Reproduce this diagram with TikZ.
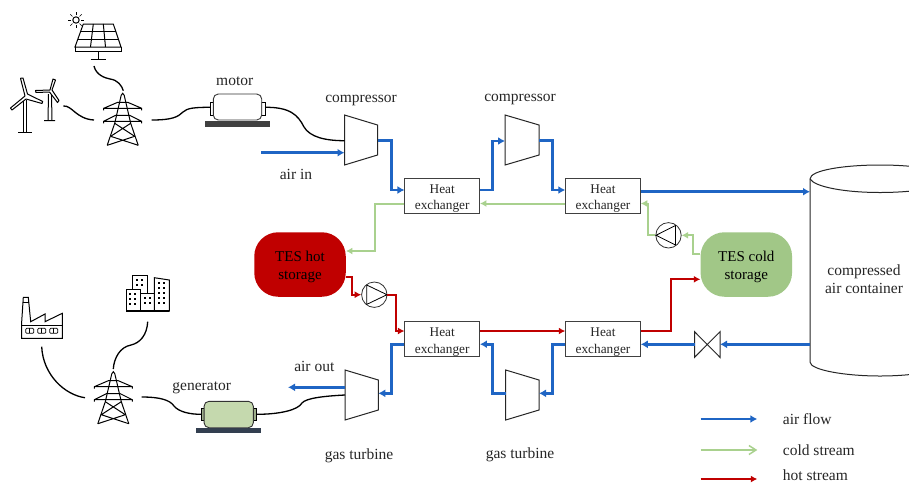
\documentclass[tikz,border=0pt]{standalone}
\usepackage{fontspec}
\setmainfont{Liberation Serif}
\usetikzlibrary{arrows.meta}
\definecolor{airblue}{HTML}{1F65C4}
\definecolor{coldgreen}{HTML}{A9D18E}
\definecolor{hotred}{HTML}{C00000}
\definecolor{genfill}{HTML}{C5D9AE}
\definecolor{genbase}{HTML}{333F50}
\newcommand{\hxtext}{\rule{0pt}{14pt}Heat\\exchanger}
\tikzset{
	lbl/.style={inner sep=0pt, font=\fontsize{15.5}{18}\selectfont, align=center, text=black!85},
	hx/.style={draw=black!75, line width=1pt, fill=white, minimum width=74.5pt, minimum height=35pt, inner sep=0pt, align=center, font=\fontsize{13.3}{16.7}\selectfont, text=black!85},
	tes/.style={minimum width=91.5pt, minimum height=64.5pt, inner sep=0pt, rounded corners=24pt, align=center, font=\fontsize{15}{18}\selectfont},
	pumpc/.style={circle, draw=black!80, line width=0.8pt, minimum size=25.4pt, inner sep=0pt},
	unit/.style={draw=black!85, line width=1pt, line join=miter},
	icon/.style={draw=black, line width=1pt},
	shaft/.style={draw=black, line width=1.3pt},
	air/.style={draw=airblue, line width=2.7pt, -{Latex[length=7pt,width=8pt]}},
	cold/.style={draw=coldgreen, line width=2pt, -{Latex[length=6.5pt,width=7pt]}},
	hot/.style={draw=hotred, line width=1.7pt, -{Latex[length=6.5pt,width=7pt]}},
	pylon/.pic={
		\draw[icon] (-1.5,2) -- (0,0) -- (1.5,2) (-1.5,2) -- (-8,30) -- (-15.5,52) (1.5,2) -- (8,30) -- (15.5,52);
		\draw[icon] (-19,17) -- (-19,15) -- (-5,9) -- (5,9) -- (19,15) -- (19,17) (-19,15) -- (19,15);
		\draw[icon] (-19,30) -- (-19,28) -- (-7,22) -- (7,22) -- (19,28) -- (19,30) (-19,28) -- (19,28);
		\draw[icon] (-8,30) -- (12,43) (8,30) -- (-12,43) (-12,43) -- (15.5,52) (12,43) -- (-15.5,52);
	},
	window/.pic={\fill (-0.8,-0.8) rectangle (0.8,0.8);},
	winshape/.pic={\draw[icon, line width=0.7pt, rounded corners=1pt] (0,0) rectangle (8,5); \draw[icon, line width=0.7pt] (4,0) -- (4,5);}
}
\begin{document}
\begin{tikzpicture}[x=1pt, y=-1pt]
	\clip (0,0) rectangle (909,483);
	\fill[white] (0,0) rectangle (909,483);

	% solar panel
	\draw[icon] (83.3,24) -- (113.3,24) -- (121,47) -- (75,47) -- cycle;
	\draw[icon] (75,47) -- (75,51) -- (121,51) -- (121,47);
	\draw[icon] (80.7,31.5) -- (115.8,31.5) (78,39.5) -- (118.2,39.5);
	\draw[icon] (93.3,24) -- (90.5,47) (103.3,24) -- (105.5,47);
	\draw[icon] (98.3,51) -- (98.3,59.3) (90.7,59.3) -- (105.7,59.3);
	\draw[icon] (76,20) circle (3.2);
	\foreach \a in {0,45,...,315} {
		\draw[icon, line width=0.6pt] (76,20) ++(\a:5) -- ++(\a:3);
	}
	\coordinate (panel) at (94,66);

	% wind turbines
	\draw[icon] (23.5,100) -- (23.5,132.3) (26.5,100) -- (26.5,132.3) (18,132.3) -- (32,132.3);
	\draw[icon, fill=white, line join=round] (25,96) -- (20.5,78.3) -- (23,78) -- (27.5,94) -- (42.7,101.5) -- (42,103.5) -- (26,99) -- (12,110) -- (10.5,108) -- cycle;
	\draw[icon] (48.5,94) -- (48,120.7) (51.5,94) -- (52,120.7) (44,120.7) -- (55,120.7);
	\draw[icon, fill=white, line join=round] (50,90) -- (53,79) -- (55.5,80) -- (52,90) -- (59,100.5) -- (57.5,102.5) -- (49.5,92) -- (36,92.5) -- (35.5,90.5) -- cycle;
	\coordinate (wind) at (63.3,106);

	% towers
	\pic at (122.7,93.3) {pylon};
	\pic at (113.3,371.7) {pylon};
	\coordinate (gridAtop) at (123.3,90.7);
	\coordinate (gridAleft) at (94,120);
	\coordinate (gridAright) at (151.7,120);
	\coordinate (gridBtop) at (113.3,369);
	\coordinate (gridBleft) at (85,397.7);
	\coordinate (gridBright) at (141.7,397);

	% factory
	\draw[icon] (21.7,338.3) -- (21.7,321.7) -- (23.3,297.3) -- (28.3,297.3) -- (30.7,321.7) -- (45,314) -- (45,321.7) -- (62.3,313.3) -- (62.3,338.3) -- cycle;
	\draw[icon] (21.7,325) -- (62.3,325) (23,302) -- (28.8,302);
	\foreach \x in {25.7,37.7,49.7} {
		\pic at (\x,328.3) {winshape};
	}
	\coordinate (factory) at (41.7,346.7);

	% buildings
	\draw[icon, fill=white] (132.7,290) -- (132.7,275) -- (147.3,275) -- (147.3,293);
	\draw[icon, fill=white] (126,311) -- (126,289.3) -- (140,289.3) -- (140,311) -- cycle;
	\draw[icon, fill=white] (140.7,311) -- (140.7,293.3) -- (154.3,293.3) -- (154.3,311) -- cycle;
	\draw[icon, fill=white] (154.3,311) -- (154.3,277.7) -- (169.3,280) -- (169.3,311) -- cycle;
	\draw[line width=1.4pt] (126,311) -- (169.3,311);
	\foreach \x/\y in {137/280,142/280,137/285,142/285,130/294,135/294,130/299,135/299,130/304,135/304,145/298,150/298,145/303,150/303,159/283,164/283,159/288,164/288,159/293,164/293,159/298,164/298,159/303,164/303} {
		\pic at (\x,\y) {window};
	}
	\coordinate (city) at (147.7,321.7);

	% motor
	\fill[black!75] (205,120.7) rectangle (270,126.7);
	\draw[icon, fill=white] (210,102) rectangle (213.5,115);
	\draw[icon, fill=white] (261.5,102) rectangle (265,115);
	\node[draw=black!80, line width=0.9pt, fill=white, rounded corners=5pt, minimum width=48.4pt, minimum height=26pt, inner sep=0pt] (motor) at (237.5,107) {};
	\coordinate (motorL) at (210,107.3);
	\coordinate (motorR) at (265,107.3);
	\node[lbl] (motorlbl) at (234.7,81) {motor};

	% generator
	\fill[genbase] (196,427.7) rectangle (261,433.3);
	\draw[icon, fill=genfill!80!black] (201,408.3) rectangle (204.5,420);
	\draw[icon, fill=genfill!80!black] (253,408.3) rectangle (256.5,420);
	\node[draw=black!80, line width=0.9pt, fill=genfill, rounded corners=5pt, minimum width=49.3pt, minimum height=26.4pt, inner sep=0pt] (gen) at (228.7,414.5) {};
	\coordinate (genL) at (201,414.3);
	\coordinate (genR) at (256.5,414.3);
	\node[lbl] (genlbl) at (201.7,387.5) {generator};

	% compressors and turbines
	\draw[unit] (344.5,115) -- (377.5,125) -- (377.5,155) -- (344.5,165) -- cycle;
	\draw[unit] (505,115) -- (539,125) -- (539,155) -- (505,165) -- cycle;
	\draw[unit] (345,370) -- (378.3,380) -- (378.3,410) -- (345,420) -- cycle;
	\draw[unit] (505.7,370) -- (539,380) -- (539,410) -- (505.7,420) -- cycle;
	\coordinate (compAin) at (344.5,152.7);
	\coordinate (compAshaft) at (344.5,140.7);
	\coordinate (compAout) at (377.5,140.8);
	\coordinate (compBin) at (505,141);
	\coordinate (compBout) at (539,140.8);
	\coordinate (turbAin) at (378.3,393.3);
	\coordinate (turbAout) at (345,387.3);
	\coordinate (turbAshaft) at (345,395);
	\coordinate (turbBin) at (539,393.3);
	\coordinate (turbBout) at (505.7,393.3);
	\node[lbl] (compAlbl) at (361,100) {compressor};
	\node[lbl] (compBlbl) at (520,99) {compressor};
	\node[lbl] (turbAlbl) at (359,455.5) {gas turbine};
	\node[lbl] (turbBlbl) at (520,454.5) {gas turbine};
	\node[lbl] (airinlbl) at (296,174.5) {air in};
	\node[lbl] (airoutlbl) at (314.3,366) {air out};

	% heat exchangers
	\node[hx] (hxA) at (442.2,195.8) {\hxtext};
	\node[hx] (hxB) at (603,195.8) {\hxtext};
	\node[hx] (hxC) at (442.2,339.2) {\hxtext};
	\node[hx] (hxD) at (603,339.2) {\hxtext};

	% storages
	\node[tes, fill=hotred] (hotTES) at (300,264.5) {\rule{0pt}{16pt}TES hot\\storage};
	\node[tes, fill=coldgreen!95!black] (coldTES) at (746.3,264.5) {\rule{0pt}{16pt}TES cold\\storage};

	% pumps
	\node[pumpc] (pumpH) at (374.3,294.7) {};
	\draw[icon, line width=0.8pt] (366.7,285) -- (366.7,304.4) -- (387,294.7) -- cycle;
	\node[pumpc] (pumpC) at (668.5,235.3) {};
	\draw[icon, line width=0.8pt] (675.5,225.5) -- (675.5,245) -- (656,235.3) -- cycle;

	% container
	\draw[unit, fill=white] (810,179) .. controls (810,170) and (845,165) .. (880,165) .. controls (915,165) and (950,170) .. (950,179) -- (950,362) .. controls (950,370) and (915,376) .. (880,376) .. controls (845,376) and (810,370) .. (810,362) -- cycle;
	\draw[unit] (810,179) .. controls (815,187) and (845,192.5) .. (880,192.5) .. controls (915,192.5) and (950,187) .. (950,179);
	\coordinate (tankin) at (810,191.7);
	\coordinate (tankout) at (810,344.3);
	\node[lbl] (tanklbl) at (864,279) {compressed\\air container};

	% valve
	\draw[unit] (694.5,331.7) -- (720,357.3) -- (720,331.7) -- (694.5,357.3) -- cycle;
	\coordinate (valveL) at (694.5,344.3);
	\coordinate (valveR) at (720,344.3);

	% shafts and cables
	\draw[shaft] (panel) .. controls (96,75) and (105,78) .. (110,79) .. controls (118,80) and (122,86) .. (gridAtop);
	\draw[shaft] (wind) .. controls (72,105) and (76,119) .. (gridAleft);
	\draw[shaft] (gridAright) .. controls (172,120) and (178,117) .. (183,112) .. controls (187,108) and (195,107.3) .. (motorL);
	\draw[shaft] (motorR) .. controls (290,107) and (298,115) .. (304,127) .. controls (310,137) and (325,140.7) .. (compAshaft);
	\draw[shaft] (gridBright) .. controls (160,397) and (170,400) .. (174,406) .. controls (179,412) and (190,414.3) .. (genL);
	\draw[shaft] (genR) .. controls (280,414.3) and (298,410) .. (302,403) .. controls (306,398) and (325,396) .. (turbAshaft);
	\draw[shaft] (city) .. controls (147,335) and (140,343) .. (131,345) .. controls (120,347) and (114,358) .. (gridBtop);
	\draw[shaft] (factory) .. controls (43,375) and (65,395) .. (gridBleft);

	% air flow
	\coordinate (airstart) at (261,152.7);
	\coordinate (airend) at (288,387.3);
	\draw[air] (airstart) -- (compAin);
	\draw[air] (compAout) -| (391.7,190) -- ([yshift=5.8pt]hxA.west);
	\draw[air] ([yshift=5.8pt]hxA.east) -| (492.3,141) -- (compBin);
	\draw[air] (compBout) -| (552.3,190) -- ([yshift=5.8pt]hxB.west);
	\draw[air] (hxB.east |- tankin) -- (tankin);
	\draw[air] (tankout) -- (valveR);
	\draw[air] (valveL) -- (hxD.east |- valveL);
	\draw[air] ([yshift=-5pt]hxD.west) -| (552.3,393.3) -- (turbBin);
	\draw[air] (turbBout) -| (492.3,344.2) -- ([yshift=-5pt]hxC.east);
	\draw[air] ([yshift=-5pt]hxC.west) -| (391.7,393.3) -- (turbAin);
	\draw[air] (turbAout) -- (airend);

	% cold stream
	\draw[cold] (coldTES.west |- 0,254) -| (693.3,235.3) -- (pumpC.east);
	\draw[cold] (pumpC.west) -| (647.7,203.5) -- ([yshift=-7.7pt]hxB.east);
	\draw[cold] ([yshift=-7.7pt]hxB.west) -- ([yshift=-7.7pt]hxA.east);
	\draw[cold] ([yshift=-7.7pt]hxA.west) -| (374.7,251) -- (hotTES.east |- 0,251);

	% hot stream
	\draw[hot] (hotTES.east |- 0,276.7) -| (351.7,294.7) -- (pumpH.west);
	\draw[hot] (pumpH.east) -| (395.7,331) -- ([yshift=8.2pt]hxC.west);
	\draw[hot] ([yshift=8.2pt]hxC.east) -- ([yshift=8.2pt]hxD.west);
	\draw[hot] ([yshift=8.2pt]hxD.east) -| (671,279.3) -- (coldTES.west |- 0,279.3);

	% legend
	\coordinate (legAa) at (700.7,419);
	\coordinate (legAb) at (757.3,419);
	\coordinate (legBa) at (700.7,450);
	\coordinate (legBb) at (757.3,450);
	\coordinate (legCa) at (700.7,479);
	\coordinate (legCb) at (757.3,479);
	\draw[air] (legAa) -- (legAb);
	\draw[draw=coldgreen, line width=1.5pt, -{Straight Barb[length=7pt,width=9pt]}] (legBa) -- (legBb);
	\draw[hot] (legCa) -- (legCb);
	\node[lbl, anchor=west] (legAlbl) at (782.7,419) {air flow};
	\node[lbl, anchor=west] (legBlbl) at (782.7,450) {cold stream};
	\node[lbl, anchor=west] (legClbl) at (782.7,475) {hot stream};
\end{tikzpicture}
\end{document}
